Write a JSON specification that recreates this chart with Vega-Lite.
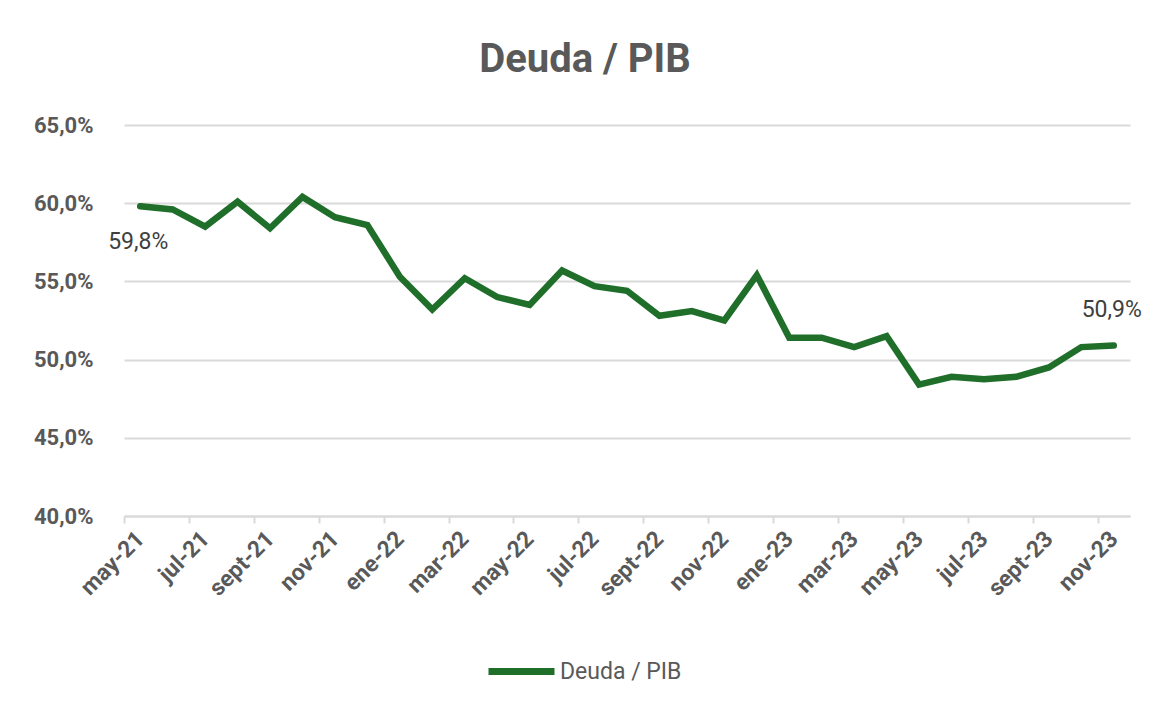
{
  "$schema": "https://vega.github.io/schema/vega-lite/v6.json",
  "autosize": {"type": "none"},
  "width": 1006,
  "height": 391,
  "padding": {"left": 124, "top": 125, "right": 42, "bottom": 204},
  "background": "white",
  "config": {
    "locale": {"number": {"decimal": ",", "thousands": ".", "grouping": [3], "currency": ["", " €"]}},
    "view": {"stroke": null},
    "font": "Roboto"
  },
  "title": {
    "text": "Deuda / PIB",
    "fontSize": 40,
    "fontWeight": "bold",
    "color": "#595959",
    "font": "Roboto",
    "anchor": "middle",
    "dx": -42,
    "offset": 34
  },
  "data": {
    "values": [
      {"mes": "may-21", "serie": "Deuda / PIB", "valor": 0.598},
      {"mes": "jun-21", "serie": "Deuda / PIB", "valor": 0.596},
      {"mes": "jul-21", "serie": "Deuda / PIB", "valor": 0.585},
      {"mes": "ago-21", "serie": "Deuda / PIB", "valor": 0.601},
      {"mes": "sept-21", "serie": "Deuda / PIB", "valor": 0.584},
      {"mes": "oct-21", "serie": "Deuda / PIB", "valor": 0.604},
      {"mes": "nov-21", "serie": "Deuda / PIB", "valor": 0.591},
      {"mes": "dic-21", "serie": "Deuda / PIB", "valor": 0.586},
      {"mes": "ene-22", "serie": "Deuda / PIB", "valor": 0.553},
      {"mes": "feb-22", "serie": "Deuda / PIB", "valor": 0.532},
      {"mes": "mar-22", "serie": "Deuda / PIB", "valor": 0.552},
      {"mes": "abr-22", "serie": "Deuda / PIB", "valor": 0.540},
      {"mes": "may-22", "serie": "Deuda / PIB", "valor": 0.535},
      {"mes": "jun-22", "serie": "Deuda / PIB", "valor": 0.557},
      {"mes": "jul-22", "serie": "Deuda / PIB", "valor": 0.547},
      {"mes": "ago-22", "serie": "Deuda / PIB", "valor": 0.544},
      {"mes": "sept-22", "serie": "Deuda / PIB", "valor": 0.528},
      {"mes": "oct-22", "serie": "Deuda / PIB", "valor": 0.531},
      {"mes": "nov-22", "serie": "Deuda / PIB", "valor": 0.525},
      {"mes": "dic-22", "serie": "Deuda / PIB", "valor": 0.554},
      {"mes": "ene-23", "serie": "Deuda / PIB", "valor": 0.514},
      {"mes": "feb-23", "serie": "Deuda / PIB", "valor": 0.514},
      {"mes": "mar-23", "serie": "Deuda / PIB", "valor": 0.508},
      {"mes": "abr-23", "serie": "Deuda / PIB", "valor": 0.515},
      {"mes": "may-23", "serie": "Deuda / PIB", "valor": 0.484},
      {"mes": "jun-23", "serie": "Deuda / PIB", "valor": 0.489},
      {"mes": "jul-23", "serie": "Deuda / PIB", "valor": 0.4875},
      {"mes": "ago-23", "serie": "Deuda / PIB", "valor": 0.489},
      {"mes": "sept-23", "serie": "Deuda / PIB", "valor": 0.495},
      {"mes": "oct-23", "serie": "Deuda / PIB", "valor": 0.508},
      {"mes": "nov-23", "serie": "Deuda / PIB", "valor": 0.509}
    ]
  },
  "encoding": {
    "x": {
      "field": "mes",
      "type": "ordinal",
      "sort": null,
      "scale": {"type": "point", "padding": 0.5},
      "axis": {
        "title": null,
        "values": ["may-21", "jul-21", "sept-21", "nov-21", "ene-22", "mar-22", "may-22", "jul-22", "sept-22", "nov-22", "ene-23", "mar-23", "may-23", "jul-23", "sept-23", "nov-23"],
        "labelAngle": -45,
        "labelAlign": "right",
        "labelBaseline": "middle",
        "labelFontSize": 23,
        "labelFontWeight": "bold",
        "labelColor": "#595959",
        "labelPadding": 12,
        "domainColor": "#d9d9d9",
        "domainWidth": 2,
        "tickColor": "#d9d9d9",
        "tickWidth": 2,
        "tickSize": 7,
        "tickOffset": -16.2,
        "labelOffset": 16.2,
        "grid": false
      }
    },
    "y": {
      "field": "valor",
      "type": "quantitative",
      "scale": {"domain": [0.40, 0.65], "nice": false, "zero": false},
      "axis": {
        "title": null,
        "values": [0.40, 0.45, 0.50, 0.55, 0.60, 0.65],
        "format": ".1%",
        "labelFontSize": 22,
        "labelFontWeight": "bold",
        "labelColor": "#595959",
        "labelPadding": 31,
        "domain": false,
        "ticks": false,
        "grid": true,
        "gridColor": "#d9d9d9",
        "gridWidth": 2
      }
    }
  },
  "layer": [
    {
      "mark": {"type": "line", "strokeWidth": 6.5, "strokeJoin": "miter", "strokeCap": "round"},
      "encoding": {
        "color": {
          "field": "serie",
          "type": "nominal",
          "scale": {"range": ["#1f6e2a"]},
          "legend": {
            "title": null,
            "orient": "none",
            "legendX": 361,
            "legendY": 510,
            "symbolType": "stroke",
            "symbolSize": 4356,
            "symbolStrokeWidth": 7,
            "labelFontSize": 23,
            "labelColor": "#595959",
            "labelOffset": 2
          }
        }
      }
    },
    {
      "transform": [{"filter": "datum.mes === 'may-21'"}],
      "mark": {"type": "text", "fontSize": 23, "color": "#404040", "dy": 36, "dx": -2},
      "encoding": {"text": {"field": "valor", "type": "quantitative", "format": ".1%"}}
    },
    {
      "transform": [{"filter": "datum.mes === 'nov-23'"}],
      "mark": {"type": "text", "fontSize": 23, "color": "#404040", "dy": -36, "dx": -2},
      "encoding": {"text": {"field": "valor", "type": "quantitative", "format": ".1%"}}
    }
  ]
}
